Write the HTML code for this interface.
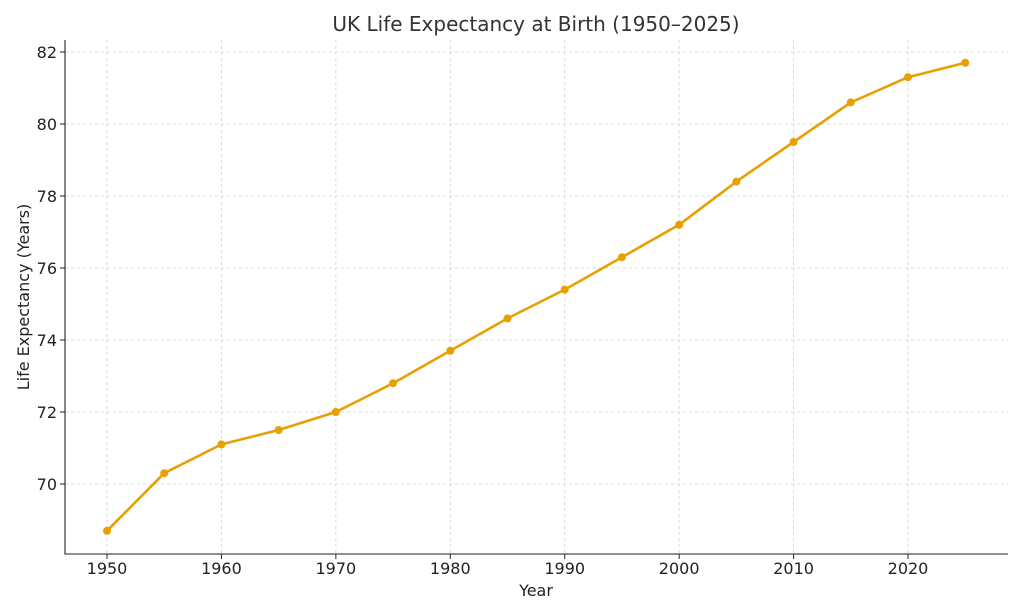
<!DOCTYPE html>
<html><head><meta charset="utf-8"><style>
body{margin:0;background:#fff;}
svg{display:block;font-family:"DejaVu Sans","Liberation Sans",sans-serif;}
</style></head><body>
<svg id="chart" width="1024" height="614"></svg>
<script>
const years=[1950,1955,1960,1965,1970,1975,1980,1985,1990,1995,2000,2005,2010,2015,2020,2025];
const lifeExp=[68.7,70.3,71.1,71.5,72.0,72.8,73.7,74.6,75.4,76.3,77.2,78.4,79.5,80.6,81.3,81.7];
const xTicks=[1950,1960,1970,1980,1990,2000,2010,2020];
const yTicks=[70,72,74,76,78,80,82];

const NS='http://www.w3.org/2000/svg';
const svg=document.getElementById('chart');
const L=65,R=1008,T=40,B=554;
const xs=v=>107+(v-1950)*(908-107)/70;
const ys=v=>484-(v-70)*36;
function mk(tag,attrs,parent){const e=document.createElementNS(NS,tag);for(const k in attrs)e.setAttribute(k,attrs[k]);(parent||svg).appendChild(e);return e;}

const grid=mk('g',{});


xTicks.forEach(t=>{const l=mk('line',{x1:xs(t),x2:xs(t),y1:T,y2:B,stroke:'#d0d0d0','stroke-dasharray':'3,3','stroke-width':0.8},grid);

});
yTicks.forEach(t=>{const l=mk('line',{x1:L,x2:R,y1:ys(t),y2:ys(t),stroke:'#d0d0d0','stroke-dasharray':'3,3','stroke-width':0.8},grid);

});

const ax=mk('path',{d:`M${L},${T}V${B}H${R}`,fill:'none',stroke:'#222','stroke-width':1.1});



xTicks.forEach(t=>{mk('line',{x1:xs(t),x2:xs(t),y1:B,y2:B+5,stroke:'#222'});
const tx=mk('text',{x:xs(t),y:B+20,'text-anchor':'middle','font-size':16,fill:'#222'});tx.textContent=t;

});
yTicks.forEach(t=>{mk('line',{x1:L-5,x2:L,y1:ys(t),y2:ys(t),stroke:'#222'});
const tx=mk('text',{x:L-8,y:ys(t)+6,'text-anchor':'end','font-size':16,fill:'#222'});tx.textContent=t;

});

const line=mk('polyline',{points:years.map((y,i)=>xs(y)+','+ys(lifeExp[i])).join(' '),fill:'none',stroke:'#e8a000','stroke-width':2.6,'stroke-linejoin':'round'});


years.forEach((y,i)=>{const c=mk('circle',{cx:xs(y),cy:ys(lifeExp[i]),r:4,fill:'#e8a000'});

});

const title=mk('text',{x:536,y:31,'text-anchor':'middle','font-size':20,fill:'#333'});title.textContent='UK Life Expectancy at Birth (1950–2025)';


const xl=mk('text',{x:536,y:596,'text-anchor':'middle','font-size':16,fill:'#222'});xl.textContent='Year';


const yl=mk('text',{x:0,y:0,'text-anchor':'middle','font-size':16,fill:'#222',transform:'translate(29,297) rotate(-90)'});yl.textContent='Life Expectancy (Years)';


</script>
</body></html>
